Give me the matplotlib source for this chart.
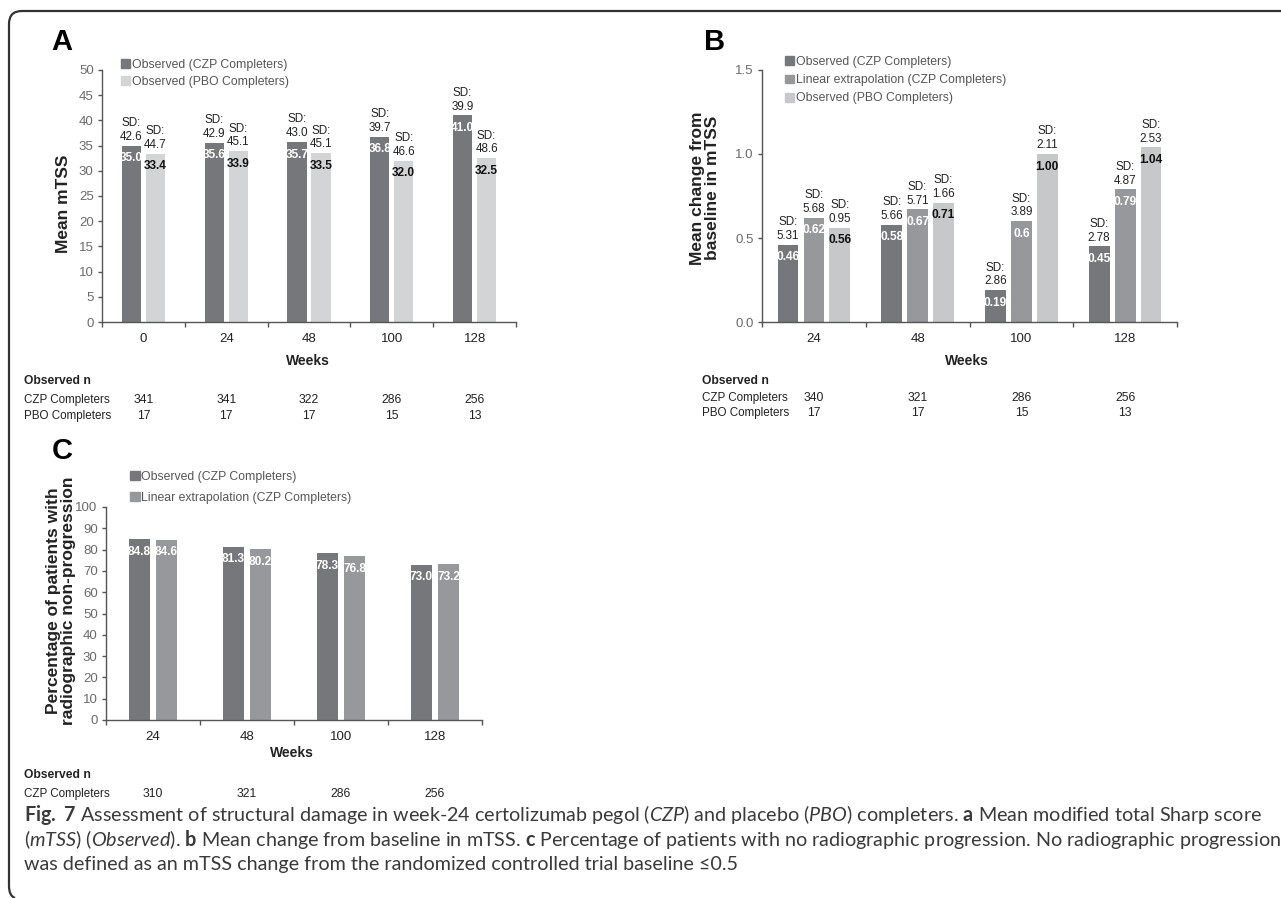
import numpy as np
import matplotlib
matplotlib.use("Agg")
import matplotlib.pyplot as plt
from matplotlib import font_manager
from matplotlib.patches import Patch, PathPatch
from matplotlib.path import Path
import matplotlib.transforms as mtrans

# ---------------- data ----------------
weeks_a = ["0", "24", "48", "100", "128"]
a_czp = [35.0, 35.6, 35.7, 36.8, 41.0]
a_czp_sd = ["42.6", "42.9", "43.0", "39.7", "39.9"]
a_pbo = [33.4, 33.9, 33.5, 32.0, 32.5]
a_pbo_sd = ["44.7", "45.1", "45.1", "46.6", "48.6"]
a_n_czp = ["341", "341", "322", "286", "256"]
a_n_pbo = ["17", "17", "17", "15", "13"]

weeks_b = ["24", "48", "100", "128"]
b_obs = [0.46, 0.58, 0.19, 0.45]
b_obs_lbl = ["0.46", "0.58", "0.19", "0.45"]
b_obs_sd = ["5.31", "5.66", "2.86", "2.78"]
b_lin = [0.62, 0.67, 0.60, 0.79]
b_lin_lbl = ["0.62", "0.67", "0.6", "0.79"]
b_lin_sd = ["5.68", "5.71", "3.89", "4.87"]
b_pbo = [0.56, 0.71, 1.00, 1.04]
b_pbo_lbl = ["0.56", "0.71", "1.00", "1.04"]
b_pbo_sd = ["0.95", "1.66", "2.11", "2.53"]
b_n_czp = ["340", "321", "286", "256"]
b_n_pbo = ["17", "17", "15", "13"]

weeks_c = ["24", "48", "100", "128"]
c_obs = [84.8, 81.3, 78.3, 73.0]
c_lin = [84.6, 80.2, 76.8, 73.2]
c_n_czp = ["310", "321", "286", "256"]

# ---------------- styling ----------------
names = {f.name for f in font_manager.fontManager.ttflist}
NARROW = "Liberation Sans Narrow" if "Liberation Sans Narrow" in names else "Liberation Sans"
SANS = "Liberation Sans"
CAPF = "Lato" if "Lato" in names else "DejaVu Sans"

plt.rcParams["font.family"] = [NARROW, "DejaVu Sans"]
plt.rcParams["mathtext.fontset"] = "custom"
plt.rcParams["mathtext.rm"] = CAPF
plt.rcParams["mathtext.it"] = CAPF + ":italic"
plt.rcParams["mathtext.bf"] = CAPF + ":bold"

FS = 8.4       # small chart text
TICK_FS = 9.0
DARK = "#76777a"
MID = "#97989b"
LIGHT_A = "#d3d4d6"
LIGHT_B = "#c7c8ca"
SPINE = "#555555"

W, H = 1281, 898
fig = plt.figure(figsize=(W / 100, H / 100), dpi=100)


def fx(x):
    return x / W


def fy(y):
    return 1 - y / H


def make_axes(l, r, t, b):
    return fig.add_axes([fx(l), fy(b), fx(r) - fx(l), fy(t) - fy(b)])


def style_axes(ax, ncat, cats):
    ax.set_xlim(-0.5, ncat - 0.5)
    for s in ["top", "right"]:
        ax.spines[s].set_visible(False)
    for s in ["left", "bottom"]:
        ax.spines[s].set_color(SPINE)
        ax.spines[s].set_linewidth(1.0)
    ax.set_xticks(np.arange(-0.5, ncat, 1.0))
    ax.set_xticklabels([])
    ax.set_xticks(np.arange(ncat), minor=True)
    ax.set_xticklabels(cats, minor=True)
    ax.tick_params(axis="x", which="major", length=3.5, width=1, color=SPINE, direction="out")
    ax.tick_params(axis="x", which="minor", length=0, pad=8, labelsize=TICK_FS + 0.5,
                   labelcolor="#222222")
    ax.tick_params(axis="y", length=3, width=1, color=SPINE, pad=3, labelsize=TICK_FS + 0.5,
                   labelcolor="#6a6a6a")


def val_label(ax, x, y, txt, color):
    ax.annotate(txt, (x, y), xytext=(0, -9), textcoords="offset points",
                ha="center", va="center", fontsize=FS + 0.2, fontweight="bold", color=color)


def sd_label(ax, x, y, txt):
    ax.annotate("SD:\n" + txt, (x, y), xytext=(0, 2), textcoords="offset points",
                ha="center", va="bottom", fontsize=FS, color="#222222", linespacing=1.2)


def legend(ax, handles, x, y, spacing):
    ax.legend(handles=handles, loc="upper left", bbox_to_anchor=(x, y), frameon=False,
              handlelength=0.75, handleheight=0.75, handletextpad=0.15,
              labelspacing=spacing, fontsize=FS + 0.4, borderaxespad=0, borderpad=0,
              labelcolor="#555555")


# ---------------- Panel A ----------------
axA = make_axes(102, 516, 70, 322)
xa = np.arange(len(weeks_a))
wA, oA = 0.23, 0.145
axA.bar(xa - oA, a_czp, wA, color=DARK)
axA.bar(xa + oA, a_pbo, wA, color=LIGHT_A)
axA.set_ylim(0, 50)
axA.set_yticks(np.arange(0, 51, 5))
style_axes(axA, len(weeks_a), weeks_a)
for i in range(len(weeks_a)):
    val_label(axA, xa[i] - oA, a_czp[i], f"{a_czp[i]:.1f}", "white")
    val_label(axA, xa[i] + oA, a_pbo[i], f"{a_pbo[i]:.1f}", "#111111")
    sd_label(axA, xa[i] - oA, a_czp[i], a_czp_sd[i])
    sd_label(axA, xa[i] + oA, a_pbo[i], a_pbo_sd[i])
legend(axA, [Patch(color=DARK, label="Observed (CZP Completers)"),
             Patch(color=LIGHT_A, label="Observed (PBO Completers)")], 0.045, 1.045, 0.42)

# ---------------- Panel B ----------------
axB = make_axes(762, 1177, 70, 322)
xb = np.arange(len(weeks_b))
wB, oB = 0.2, 0.25
axB.bar(xb - oB, b_obs, wB, color=DARK)
axB.bar(xb, b_lin, wB, color=MID)
axB.bar(xb + oB, b_pbo, wB, color=LIGHT_B)
axB.set_ylim(0, 1.5)
axB.set_yticks([0.0, 0.5, 1.0, 1.5])
axB.set_yticklabels(["0.0", "0.5", "1.0", "1.5"])
style_axes(axB, len(weeks_b), weeks_b)
for i in range(len(weeks_b)):
    val_label(axB, xb[i] - oB, b_obs[i], b_obs_lbl[i], "white")
    val_label(axB, xb[i], b_lin[i], b_lin_lbl[i], "white")
    val_label(axB, xb[i] + oB, b_pbo[i], b_pbo_lbl[i], "#111111")
    sd_label(axB, xb[i] - oB, b_obs[i], b_obs_sd[i])
    sd_label(axB, xb[i], b_lin[i], b_lin_sd[i])
    sd_label(axB, xb[i] + oB, b_pbo[i], b_pbo_sd[i])
legend(axB, [Patch(color=DARK, label="Observed (CZP Completers)"),
             Patch(color=MID, label="Linear extrapolation (CZP Completers)"),
             Patch(color=LIGHT_B, label="Observed (PBO Completers)")], 0.055, 1.055, 0.5)

# ---------------- Panel C ----------------
axC = make_axes(106, 482, 507, 720)
xc = np.arange(len(weeks_c))
wC, oC = 0.223, 0.144
axC.bar(xc - oC, c_obs, wC, color=DARK)
axC.bar(xc + oC, c_lin, wC, color=MID)
axC.set_ylim(0, 100)
axC.set_yticks(np.arange(0, 101, 10))
style_axes(axC, len(weeks_c), weeks_c)
for i in range(len(weeks_c)):
    val_label(axC, xc[i] - oC, c_obs[i], f"{c_obs[i]:.1f}", "white")
    val_label(axC, xc[i] + oC, c_lin[i], f"{c_lin[i]:.1f}", "white")
legend(axC, [Patch(color=DARK, label="Observed (CZP Completers)"),
             Patch(color=MID, label="Linear extrapolation (CZP Completers)")], 0.065, 1.17, 0.75)

# ---------------- labels ----------------
def ftext(x, y, s, **kw):
    fig.text(fx(x), fy(y), s, **kw)

ftext(62, 42, "A", fontsize=21, fontweight="bold", family=SANS, ha="center", va="center")
ftext(715, 42, "B", fontsize=21, fontweight="bold", family=SANS, ha="center", va="center")
ftext(62, 451, "C", fontsize=21, fontweight="bold", family=SANS, ha="center", va="center")

ftext(64, 204, "Mean mTSS", rotation=90, fontsize=12.5, fontweight="bold", family=SANS,
      ha="center", va="center", color="#222222")
ftext(705, 188, "Mean change from\nbaseline in mTSS", rotation=90, fontsize=12.5,
      fontweight="bold", family=SANS, ha="center", va="center", linespacing=1.0, color="#222222")
ftext(61, 601, "Percentage of patients with\nradiographic non-progression", rotation=90,
      fontsize=12.5, fontweight="bold", family=SANS, ha="center", va="center",
      linespacing=1.0, color="#222222")

for (x, y) in [(308, 361), (967, 361), (292, 753)]:
    ftext(x, y, "Weeks", fontsize=10, fontweight="bold", ha="center", va="center", color="#222222")


def ntable(ax, x0, ytitle, rows):
    ftext(x0, ytitle, "Observed n", fontsize=FS + 0.3, fontweight="bold", ha="left", va="center",
          color="#222222")
    tr = mtrans.blended_transform_factory(ax.transData, fig.transFigure)
    for (label, y, vals) in rows:
        ftext(x0, y, label, fontsize=FS, ha="left", va="center", color="#222222")
        for i, v in enumerate(vals):
            ax.text(i, fy(y), v, transform=tr, fontsize=FS + 0.3, ha="center", va="center",
                    color="#222222")


ntable(axA, 24, 381, [("CZP Completers", 400, a_n_czp), ("PBO Completers", 416, a_n_pbo)])
ntable(axB, 702, 381, [("CZP Completers", 398, b_n_czp), ("PBO Completers", 413, b_n_pbo)])
ntable(axC, 24, 775, [("CZP Completers", 794, c_n_czp)])

# ---------------- caption ----------------
cap_lines = [
    r"$\mathbf{Fig.\ 7}$ Assessment of structural damage in week-24 certolizumab pegol "
    r"($\mathit{CZP}$) and placebo ($\mathit{PBO}$) completers. $\mathbf{a}$ Mean modified total Sharp score",
    r"($\mathit{mTSS}$) ($\mathit{Observed}$). $\mathbf{b}$ Mean change from baseline in mTSS. "
    r"$\mathbf{c}$ Percentage of patients with no radiographic progression. No radiographic progression",
    "was defined as an mTSS change from the randomized controlled trial baseline \u22640.5",
]
cap_y = [821, 846, 870]
renderer = fig.canvas.get_renderer()
probe = fig.text(0, 0, cap_lines[0], fontsize=12, family=CAPF)
wpx = probe.get_window_extent(renderer).width
probe.remove()
cap_size = 12 * 1238 / wpx
for s, y in zip(cap_lines, cap_y):
    ftext(24, y, s, fontsize=cap_size, family=CAPF, ha="left", va="baseline", color="#3a3a3a")

# ---------------- border ----------------
verts = [(W, 11), (22, 11), (9, 11), (9, 24), (9, 886), (9, 896), (15, 898)]
codes = [Path.MOVETO, Path.LINETO, Path.CURVE3, Path.CURVE3, Path.LINETO, Path.CURVE3, Path.CURVE3]
verts_f = [(fx(x), fy(y)) for x, y in verts]
fig.add_artist(PathPatch(Path(verts_f, codes), transform=fig.transFigure, fill=False,
                         edgecolor="#333333", linewidth=1.6))

fig.savefig("out.png", dpi=100)
